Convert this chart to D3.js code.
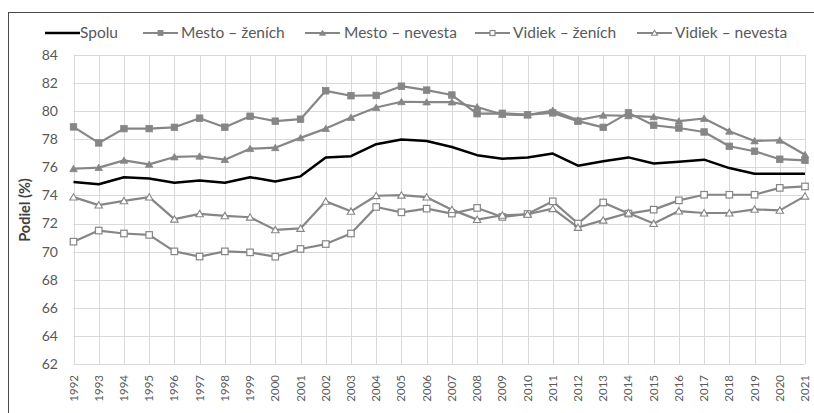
<!DOCTYPE html>
<html>
<head>
<meta charset="utf-8">
<script src="https://cdn.jsdelivr.net/npm/d3@7"></script>
<style>
  html, body { margin: 0; padding: 0; background: #fff; }
  svg { display: block; font-family: Lato, "Open Sans", sans-serif; }
</style>
</head>
<body>
<svg id="chart" width="814" height="413"></svg>
<script>
const years = ["1992","1993","1994","1995","1996","1997","1998","1999","2000","2001",
  "2002","2003","2004","2005","2006","2007","2008","2009","2010","2011",
  "2012","2013","2014","2015","2016","2017","2018","2019","2020","2021"];

const spolu = [74.95,74.8,75.3,75.2,74.9,75.07,74.9,75.3,75.0,75.36,
  76.7,76.8,77.65,77.98,77.88,77.45,76.87,76.62,76.7,76.98,
  76.12,76.43,76.71,76.28,76.4,76.55,75.95,75.55,75.55,75.55];

const mestoZenich = [78.88,77.74,78.76,78.76,78.85,79.5,78.86,79.64,79.29,79.43,
  81.45,81.1,81.12,81.78,81.5,81.15,79.82,79.85,79.75,79.88,
  79.29,78.85,79.88,79.0,78.8,78.52,77.5,77.15,76.58,76.5];

const mestoNevesta = [75.9,75.98,76.5,76.21,76.74,76.79,76.55,77.33,77.4,78.1,
  78.76,79.55,80.26,80.67,80.65,80.65,80.3,79.76,79.72,80.05,
  79.36,79.71,79.67,79.6,79.29,79.48,78.57,77.88,77.93,76.9];

const vidiekZenich = [70.71,71.5,71.29,71.19,70.02,69.65,70.02,69.95,69.64,70.19,
  70.54,71.29,73.18,72.8,73.06,72.71,73.11,72.47,72.68,73.58,
  72.0,73.5,72.71,72.99,73.65,74.05,74.05,74.05,74.54,74.64];

const vidiekNevesta = [73.88,73.31,73.62,73.88,72.31,72.69,72.55,72.45,71.55,71.65,
  73.58,72.87,73.98,74.02,73.88,72.99,72.28,72.59,72.66,73.06,
  71.72,72.24,72.75,72.0,72.89,72.75,72.75,73.01,72.94,73.95];

const yTicks = [62,64,66,68,70,72,74,76,78,80,82,84];

const seriesNames = ["Spolu","Mesto – ženích","Mesto – nevesta","Vidiek – ženích","Vidiek – nevesta"];
const seriesValues = [spolu, mestoZenich, mestoNevesta, vidiekZenich, vidiekNevesta];
const seriesMarkers = ["none","squareFilled","triangleFilled","squareOpen","triangleOpen"];

const GRAY = "#868686";
const svg = d3.select("#chart");

// outer frame (chart area border, cropped at right/bottom)
svg.append("rect").attr("x", 8.5).attr("y", 12.5).attr("width", 830).attr("height", 430)
  .attr("fill", "none").attr("stroke", "#4a4a4a").attr("stroke-width", 1);

const x = d3.scalePoint().domain(years).range([73.5, 805]);
const y = d3.scaleLinear().domain([62, 84]).range([364, 55]);

// gridlines
const grid = svg.append("g").attr("stroke", "#d9d9d9").attr("stroke-width", 1);
grid.selectAll("line.h").data(yTicks).join("line").attr("class", "h")
  .attr("x1", x(years[0])).attr("x2", x(years[years.length - 1]))
  .attr("y1", d => Math.round(y(d)) + 0.5).attr("y2", d => Math.round(y(d)) + 0.5);
grid.selectAll("line.v").data(years).join("line").attr("class", "v")
  .attr("x1", d => Math.round(x(d)) + 0.5).attr("x2", d => Math.round(x(d)) + 0.5)
  .attr("y1", y(84)).attr("y2", y(62));

// y axis labels
svg.append("g").selectAll("text").data(yTicks).join("text")
  .attr("x", 58).attr("y", d => y(d)).attr("dy", "0.35em")
  .attr("text-anchor", "end").attr("font-size", 14).attr("fill", "#595959")
  .text(d => d);

// x axis labels
svg.append("g").selectAll("text").data(years).join("text")
  .attr("transform", d => `translate(${x(d)},375) rotate(-90)`)
  .attr("dy", "0.35em").attr("text-anchor", "end")
  .attr("font-size", 11.5).attr("fill", "#595959")
  .text(d => d);

// y axis title
svg.append("text").attr("transform", "translate(25,210) rotate(-90)")
  .attr("text-anchor", "middle").attr("dy", "0.35em")
  .attr("font-size", 14.5).attr("font-weight", "bold").attr("fill", "#404040")
  .text("Podiel (%)");

function drawMarker(g, type, cx, cy, s) {
  if (type === "squareFilled") {
    g.append("rect").attr("x", cx - s/2).attr("y", cy - s/2).attr("width", s).attr("height", s)
      .attr("fill", GRAY).attr("stroke", GRAY).attr("stroke-width", 0.8);
  } else if (type === "squareOpen") {
    g.append("rect").attr("x", cx - s/2).attr("y", cy - s/2).attr("width", s).attr("height", s)
      .attr("fill", "#fff").attr("stroke", GRAY).attr("stroke-width", 1.2);
  } else if (type === "triangleFilled" || type === "triangleOpen") {
    const h = s * 0.9;
    const pts = [[cx, cy - h/2 - 0.5], [cx - s/2 - 0.5, cy + h/2], [cx + s/2 + 0.5, cy + h/2]];
    g.append("polygon").attr("points", pts.map(p => p.join(",")).join(" "))
      .attr("fill", type === "triangleFilled" ? GRAY : "#fff")
      .attr("stroke", GRAY).attr("stroke-width", type === "triangleFilled" ? 0.8 : 1.1);
  }
}

const line = d3.line().x((d, i) => x(years[i])).y(d => y(d));

seriesValues.forEach((vals, si) => {
  const g = svg.append("g");
  const isSpolu = si === 0;
  g.append("path").datum(vals).attr("d", line)
    .attr("fill", "none")
    .attr("stroke", isSpolu ? "#000" : GRAY)
    .attr("stroke-width", isSpolu ? 2.5 : 2.2)
    .attr("stroke-linejoin", "round");
  if (!isSpolu) {
    vals.forEach((v, i) => drawMarker(g, seriesMarkers[si], x(years[i]), y(v), 6.5));
  }
});

// legend
const legendItems = [
  {lx: 45, tx: 80},
  {lx: 143, tx: 181},
  {lx: 305, tx: 344},
  {lx: 475, tx: 513},
  {lx: 637, tx: 675}
];
const legY = 33;
const leg = svg.append("g");
seriesNames.forEach((name, i) => {
  const it = legendItems[i];
  leg.append("line").attr("x1", it.lx).attr("x2", it.lx + 35)
    .attr("y1", legY).attr("y2", legY)
    .attr("stroke", i === 0 ? "#000" : GRAY).attr("stroke-width", i === 0 ? 2.5 : 2.2);
  if (i > 0) drawMarker(leg, seriesMarkers[i], it.lx + 17.5, legY, 5);
  leg.append("text").attr("x", it.tx).attr("y", legY).attr("dy", "0.35em")
    .attr("font-size", 15.5).attr("fill", "#595959").text(name);
});
</script>
</body>
</html>
